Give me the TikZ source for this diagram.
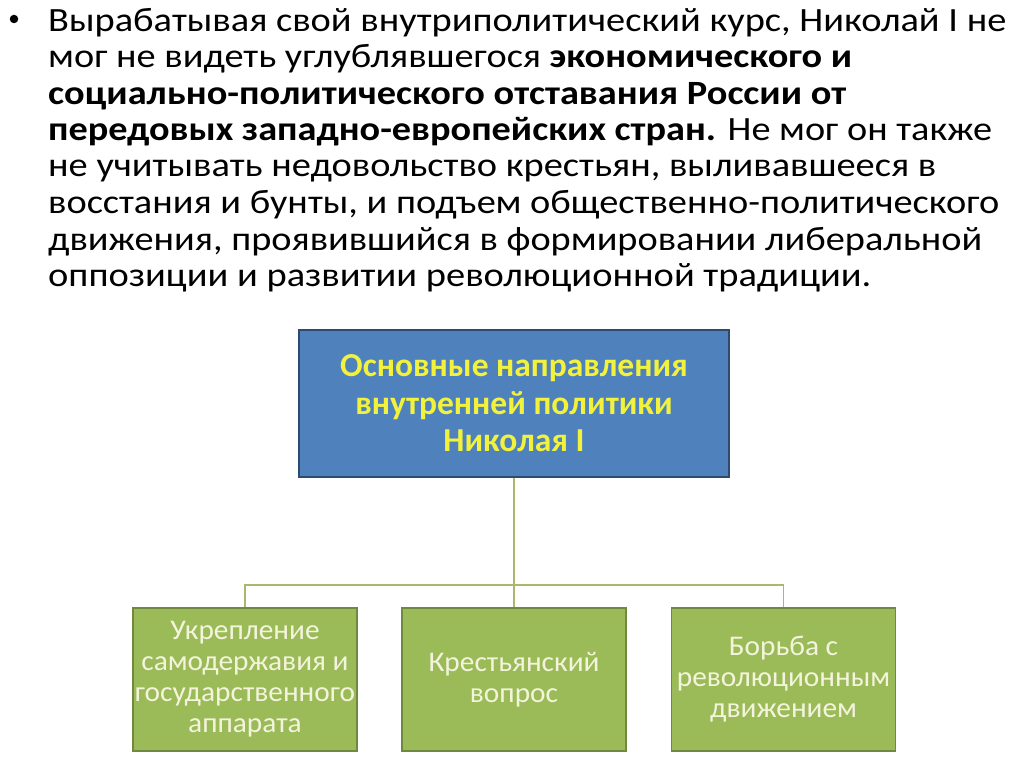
\documentclass[tikz,border=0pt]{standalone}
\usepackage{fontspec}
\setmainfont{Carlito}
\newfontfamily\leaffont[FakeStretch=1.03]{Carlito}
\definecolor{bluefill}{HTML}{4F81BD}
\definecolor{blueline}{HTML}{2E4A6E}
\definecolor{greenfill}{HTML}{9BBB59}
\definecolor{greenline}{HTML}{71893F}
\definecolor{conn}{HTML}{A9B86A}
\definecolor{headtext}{HTML}{F2F23C}
\definecolor{boxtext}{HTML}{F4F4DC}
\newcommand\fitw[2]{\resizebox{#1pt}{\height}{#2}}
\begin{document}
\begin{tikzpicture}[x=1pt,y=-1pt,
  bodyline/.style={anchor=base west,inner sep=0pt,font=\fontsize{34}{36}\selectfont,text=black},
  headbox/.style={draw=blueline,line width=1.5pt,fill=bluefill,minimum width=430pt,minimum height=147pt,
    text=headtext,align=center,font=\fontsize{33.5}{37.5}\selectfont\bfseries},
  leafbox/.style={draw=greenline,line width=1.5pt,fill=greenfill,minimum width=224pt,minimum height=143pt,
    text=boxtext,align=center,inner sep=0pt,font=\leaffont\fontsize{28.5}{31}\selectfont},
  link/.style={draw=conn,line width=1.8pt}]
\useasboundingbox (0,0) rectangle (1024,767);
\fill[white] (0,0) rectangle (1024,767);
\node[circle,fill=black,inner sep=0pt,minimum size=8.5pt] (bul) at (14,19) {};
\node[bodyline] (l1) at (48,32) {\fitw{958}{Вырабатывая свой внутриполитический курс, Николай I не}};
\node[bodyline] (l2) at (48,68) {\fitw{804}{мог не видеть углублявшегося \textbf{экономического и}}};
\node[bodyline] (l3) at (48,105) {\fitw{798}{\textbf{социально-политического отставания России от}}};
\node[bodyline] (l4) at (48,141) {\fitw{944}{\textbf{передовых западно-европейских стран.} Не мог он также}};
\node[bodyline] (l5) at (48,177) {\fitw{888}{не учитывать недовольство крестьян, выливавшееся в}};
\node[bodyline] (l6) at (48,214) {\fitw{951}{восстания и бунты, и подъем общественно-политического}};
\node[bodyline] (l7) at (48,250) {\fitw{934}{движения, проявившийся в формировании либеральной}};
\node[bodyline] (l8) at (48,286) {\fitw{823}{оппозиции и развитии революционной традиции.}};
\node[headbox] (head) at (514,403.5) {Основные направления\\внутренней политики\\Николая I};
\node[leafbox] (a) at (245,679.5) {Укрепление\\самодержавия и\\государственного\\аппарата};
\node[leafbox] (b) at (514,679.5) {Крестьянский\\вопрос};
\node[leafbox] (c) at (783.5,679.5) {Борьба с\\революционным\\движением};
\coordinate (ja) at (245,585);
\coordinate (jc) at (783.5,585);
\draw[link] (head.south) -- (b.north);
\draw[link] (a.north) -- (ja) -- (jc) -- (c.north);
\end{tikzpicture}
\end{document}
